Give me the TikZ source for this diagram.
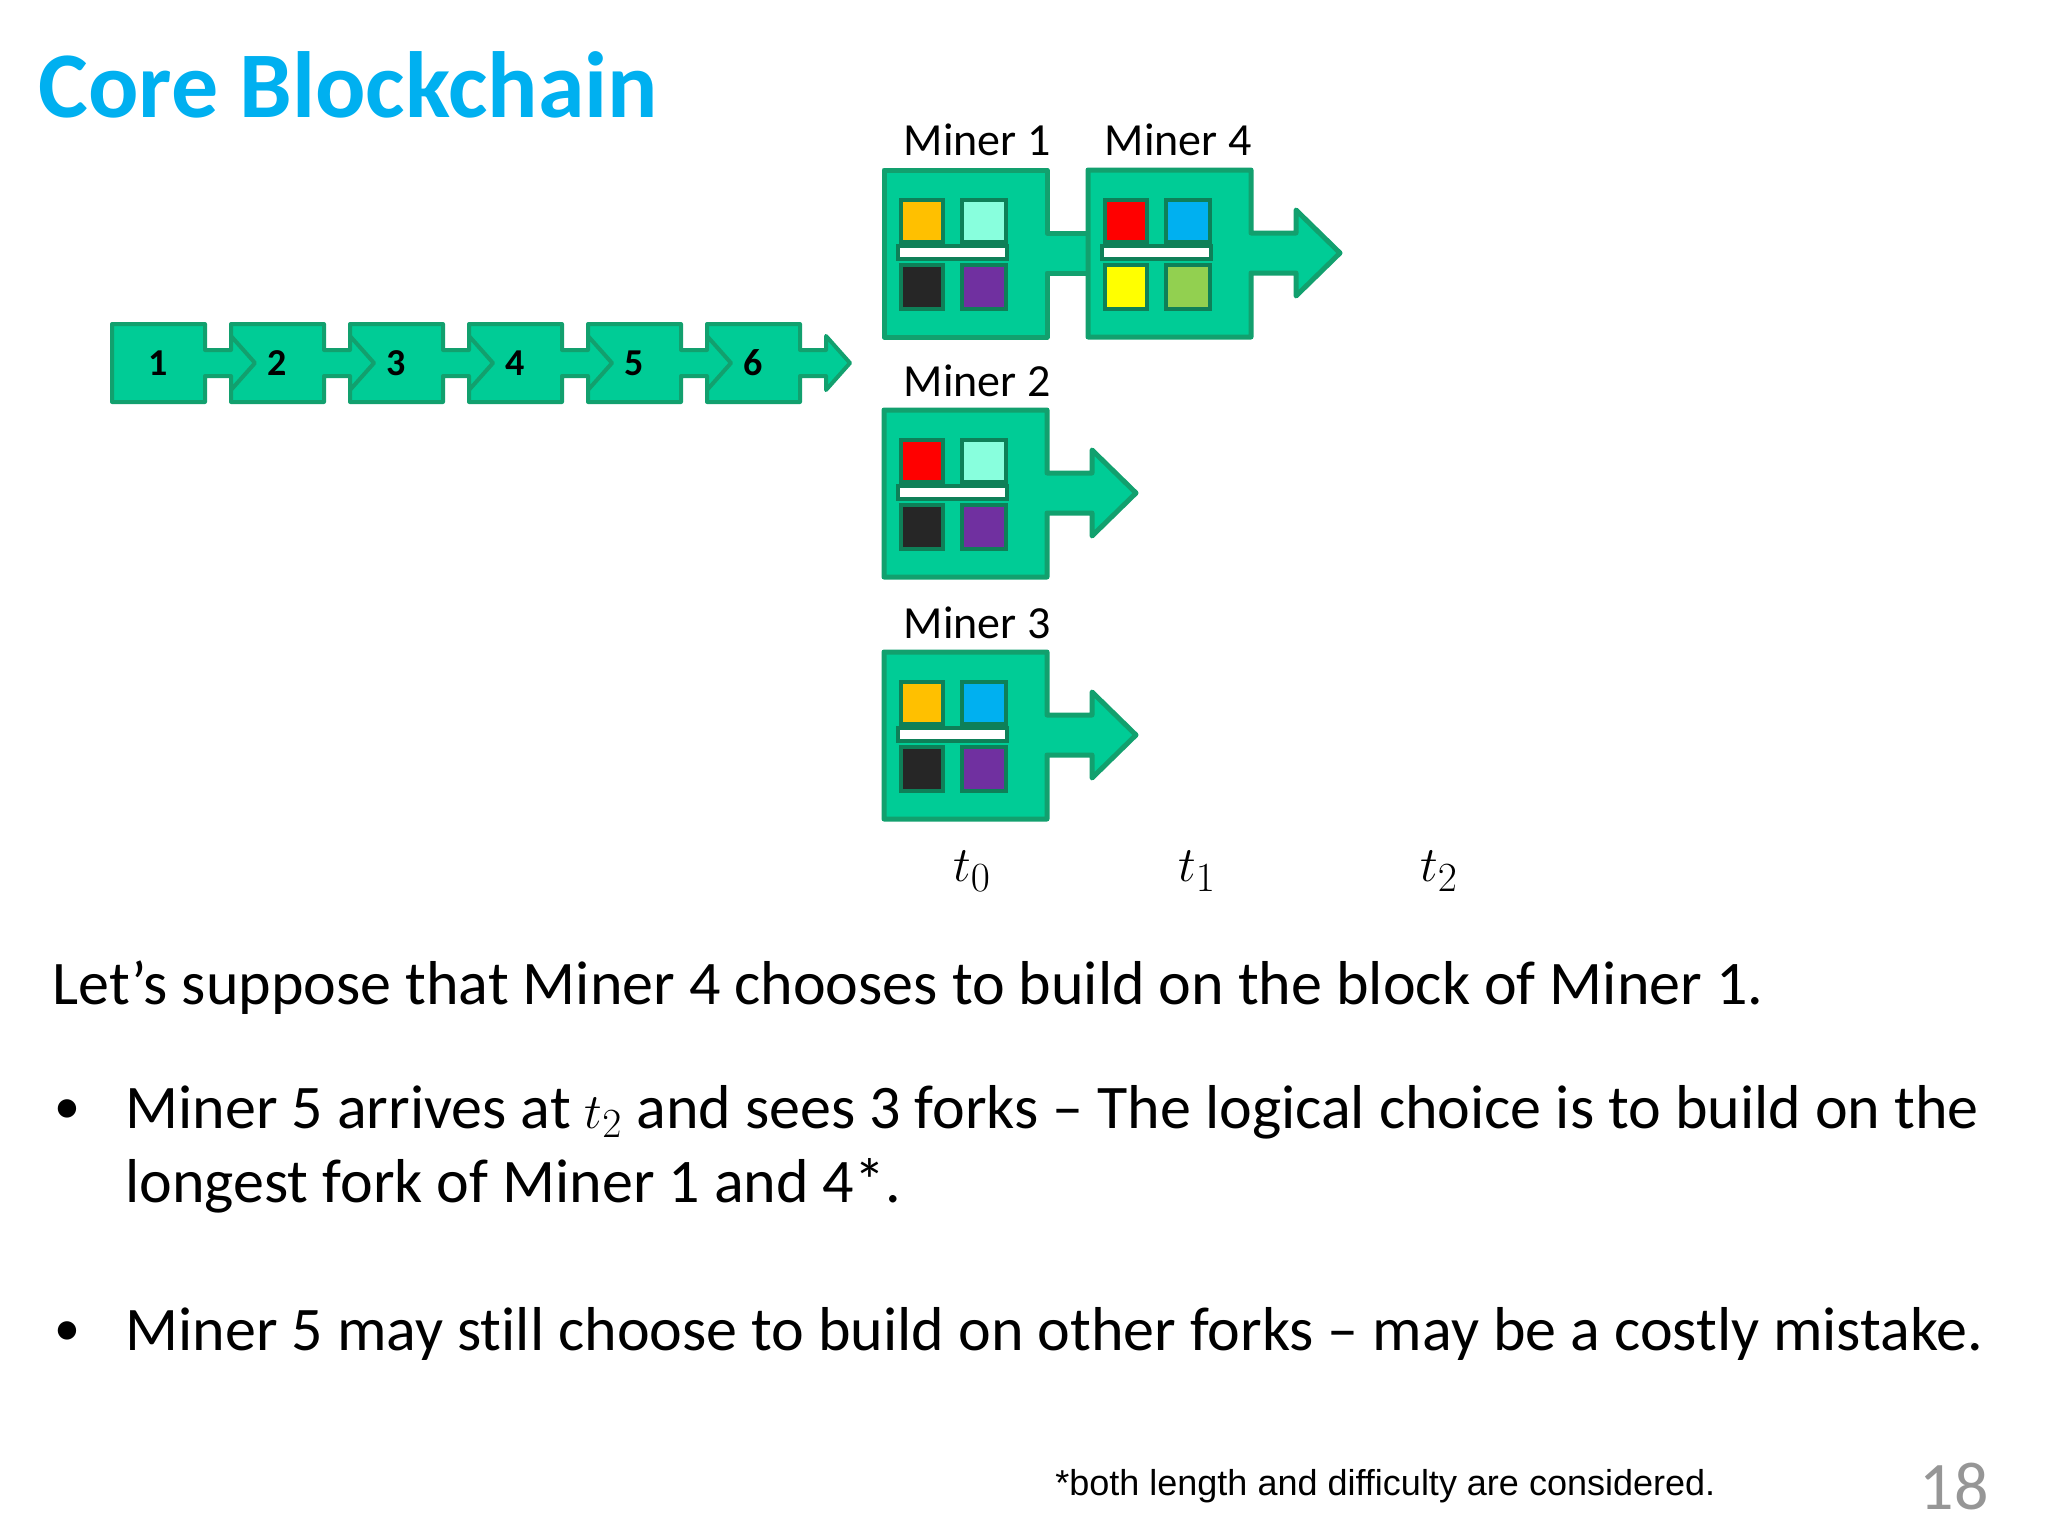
\documentclass[tikz,border=0pt]{standalone}
\usepackage{fontspec}
\setmainfont{Carlito}[Ligatures=NoCommon]
\newfontfamily\arialf{Liberation Sans}
\usepackage{amsmath}
\begin{document}
\definecolor{gfill}{RGB}{0,204,150}
\definecolor{gline}{RGB}{18,160,110}
\definecolor{ttl}{RGB}{0,176,240}
\definecolor{cY}{RGB}{255,192,0}
\definecolor{cA}{RGB}{136,255,221}
\definecolor{cK}{RGB}{38,38,38}
\definecolor{cP}{RGB}{112,48,160}
\definecolor{cR}{RGB}{255,0,0}
\definecolor{cB}{RGB}{0,176,240}
\definecolor{cYY}{RGB}{255,255,0}
\definecolor{cG}{RGB}{146,208,80}
\definecolor{grey18}{RGB}{150,150,150}
\tikzset{blk/.style={fill=gfill,draw=gline,line width=2.5pt,line join=round},
 sq/.style={draw=gline!80!black,line width=2pt},
 lbl/.style={font=\fontsize{23}{26}\selectfont,inner sep=0pt},
 num/.style={font=\bfseries\fontsize{19}{22}\selectfont,inner sep=0pt},
 tl/.style={font=\fontsize{28}{32}\selectfont},
 body/.style={font=\fontsize{31}{36}\selectfont,inner sep=0pt,anchor=west}}
\newcommand\mblk[7]{%
 \ifnum#7=1
 \draw[blk] (#1,#2) -- (#1+163,#2) -- (#1+163,#2+63) -- (#1+208,#2+63) -- (#1+208,#2+40) -- (#1+252,#2+83) -- (#1+208,#2+126) -- (#1+208,#2+103) -- (#1+163,#2+103) -- (#1+163,#2+167) -- (#1,#2+167) -- cycle;
 \else
 \draw[blk] (#1,#2) -- (#1+163,#2) -- (#1+163,#2+63) -- (#1+204,#2+63) -- (#1+204,#2+103) -- (#1+163,#2+103) -- (#1+163,#2+167) -- (#1,#2+167) -- cycle;
 \fi
 \draw[sq,fill=#3] (#1+17,#2+30) rectangle (#1+59,#2+72);
 \draw[sq,fill=#4] (#1+78,#2+30) rectangle (#1+122,#2+72);
 \draw[sq,fill=#5] (#1+17,#2+95) rectangle (#1+59,#2+139);
 \draw[sq,fill=#6] (#1+78,#2+95) rectangle (#1+122,#2+139);
 \draw[sq,fill=white] (#1+14,#2+76) rectangle (#1+123,#2+89);
}
\newcommand\cblk[2]{%
 \draw[blk,line width=2pt] (#1,324) -- (#1+93,324) -- (#1+93,350) -- (#1+119,350) -- (#1+119,336) -- (#1+143,363) -- (#1+119,390) -- (#1+119,376) -- (#1+93,376) -- (#1+93,402) -- (#1,402) -- cycle;
 \node[num] (c#2) at (#1+46,363) {#2};
}
\begin{tikzpicture}[x=0.5pt,y=-0.5pt]
\useasboundingbox (0,0) rectangle (2048,1536);
\node[font=\bfseries\fontsize{47}{50}\selectfont,text=ttl,anchor=west,inner sep=0pt] (title) at (38,85) {Core Blockchain};
\cblk{707}{6}
\cblk{588}{5}
\cblk{469}{4}
\cblk{350}{3}
\cblk{231}{2}
\cblk{112}{1}
\mblk{884}{170}{cY}{cA}{cK}{cP}{0}
\mblk{1088}{170}{cR}{cB}{cYY}{cG}{1}
\mblk{884}{410}{cR}{cA}{cK}{cP}{1}
\mblk{884}{652}{cY}{cB}{cK}{cP}{1}
\node[lbl] (m1) at (977,140) {Miner 1};
\node[lbl] (m4) at (1178,140) {Miner 4};
\node[lbl] (m2) at (977,381) {Miner 2};
\node[lbl] (m3) at (977,623) {Miner 3};
\node[tl] (t0) at (972,871) {$t_0$};
\node[tl] (t1) at (1197,871) {$t_1$};
\node[tl] (t2) at (1439,871) {$t_2$};
\node[body] (l1) at (52,988) {Let’s suppose that Miner 4 chooses to build on the block of Miner 1.};
\node[body,font=\fontsize{26}{30}\selectfont] (b1) at (54,1112) {•};
\node[body] (l2) at (125,1112) {Miner 5 arrives at $t_2$ and sees 3 forks – The logical choice is to build on the};
\node[body] (l3) at (125,1186) {longest fork of Miner 1 and 4*.};
\node[body,font=\fontsize{26}{30}\selectfont] (b2) at (54,1334) {•};
\node[body] (l4) at (125,1334) {Miner 5 may still choose to build on other forks – may be a costly mistake.};
\node[font=\arialf\fontsize{18}{21}\selectfont,anchor=west,inner sep=0pt] (fn) at (1055,1486) {*both length and difficulty are considered.};
\node[font=\fontsize{34}{38}\selectfont,text=grey18,inner sep=0pt] (pg) at (1954,1486) {18};
\end{tikzpicture}
\end{document}
